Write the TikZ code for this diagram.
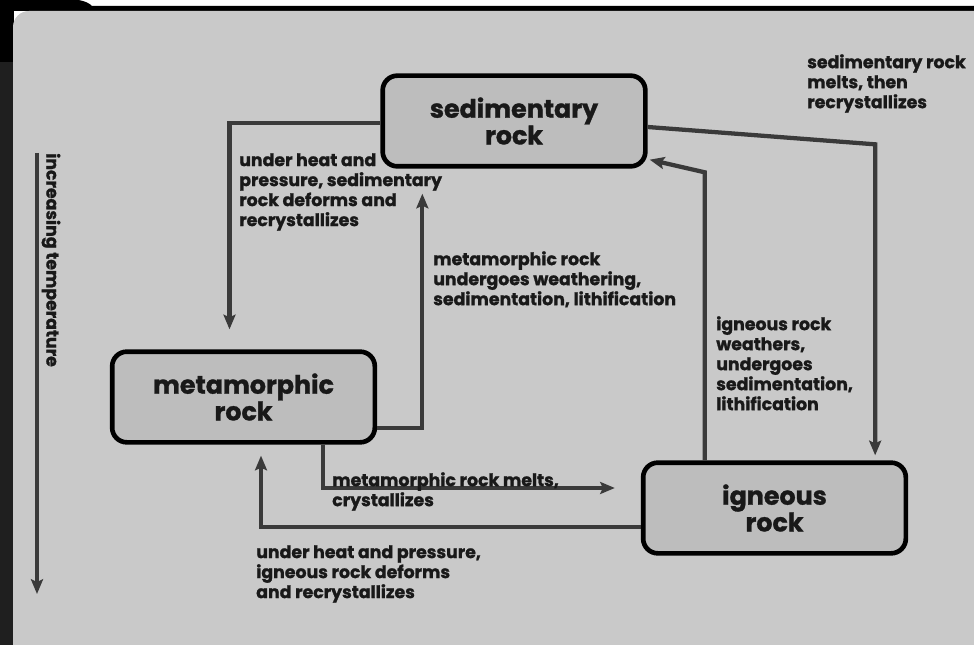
\documentclass[tikz,border=0pt]{standalone}
\usepackage{fontspec}
\setmainfont{Poppins}[BoldFeatures={FakeBold=1.2}]
\usetikzlibrary{calc,arrows.meta}
\definecolor{panelgray}{HTML}{C9C9C9}
\definecolor{boxgray}{HTML}{BDBDBD}
\definecolor{flowgray}{HTML}{3A3A3A}
\tikzset{
  rock/.style={ % rounded box of one kind of rock
    draw=black, line width=3.5pt, fill=boxgray,
    rounded corners=11pt, minimum width=197pt, minimum height=68pt,
    align=center, text=black!90,
    font=\fontsize{19}{20}\selectfont\bfseries
  },
  note/.style={ % small text beside an arrow
    anchor=north west, inner sep=0pt, align=left, text=black!90,
    font=\fontsize{13}{15}\selectfont\bfseries
  },
  flow/.style={ % process arrow
    draw=flowgray, line width=3.2pt,
    -{Stealth[length=11pt,width=9pt,inset=2pt]}
  }
}

\begin{document}
\begin{tikzpicture}[x=0.75pt, y=-0.75pt]
  % frame and panel
  \useasboundingbox (0,0) rectangle (974,645);
  \fill[white] (0,0) rectangle (974,645);
  \fill[black] (0,0) -- (78,0) .. controls (86,1) and (90,4) .. (92,6)
    -- (974,6) -- (974,11) -- (0,11) -- cycle;
  \fill[black!88] (0,0) rectangle (14,645);
  \fill[black] (0,0) rectangle (14,62);
  \fill[panelgray, rounded corners=12pt] (13,11) rectangle (990,660);

  % rocks
  \node[rock] (sed) at (514,121) {sedimentary\\rock};
  \node[rock] (met) at (243.5,397) {metamorphic\\rock};
  \node[rock] (ign) at (774.5,508) {igneous\\rock};

  % temperature scale
  \coordinate (temptop) at (37,153);
  \coordinate (tempbot) at (37,594);
  \draw[flow] (temptop) -- (tempbot);
  \node[note, anchor=center, rotate=-90] (temp_label) at (51,260) {increasing temperature};

  % arrows between the rocks
  \draw[flow] ($(sed.west)+(0,2)$) -| ($(met.north)+(-14,-20)$);
  \draw[flow] ($(met.south east)+(0,-17)$) -| ($(sed.south west)+(42,25)$);
  \draw[flow] ($(sed.east)+(0,6)$) -- ($(ign.north east)+(-33,-316)$) -- ($(ign.north east)+(-33,-5)$);
  \draw[flow] ($(ign.north west)+(64,0)$) -- ($(ign.north west)+(64,-288)$) -- ($(sed.south east)+(2,-9)$);
  \draw[flow] ($(met.south east)+(-54,0)$) |- ($(ign.west)+(-26,-20)$);
  \draw[flow] ($(ign.west)+(0,19)$) -| ($(met.south)+(17.5,11)$);

  % labels
  \node[note] (sed_met) at (239,153) {under heat and\\pressure, sedimentary\\rock deforms and\\recrystallizes};
  \node[note] (met_sed) at (433,251) {metamorphic rock\\undergoes weathering,\\sedimentation, lithification};
  \node[note] (ign_sed) at (716,316) {igneous rock\\weathers,\\undergoes\\sedimentation,\\lithification};
  \node[note] (sed_ign) at (807,54) {sedimentary rock\\melts, then\\recrystallizes};
  \node[note] (met_ign) at (332,472) {metamorphic rock melts,\\crystallizes};
  \node[note] (ign_met) at (256,545) {under heat and pressure,\\igneous rock deforms\\and recrystallizes};
\end{tikzpicture}
\end{document}
